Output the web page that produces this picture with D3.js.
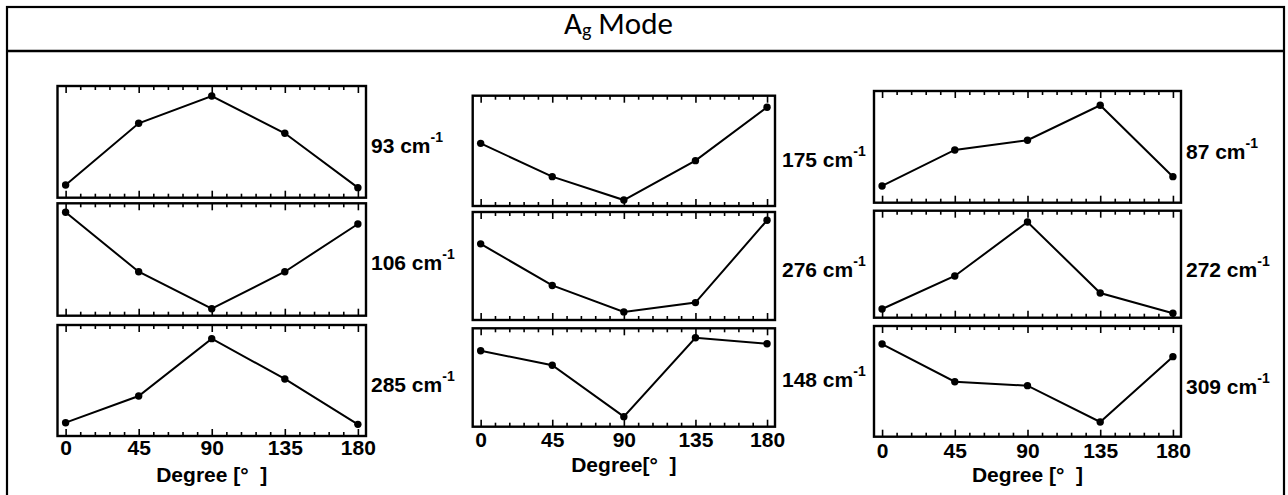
<!DOCTYPE html>
<html>
<head>
<meta charset="utf-8">
<script src="https://cdn.jsdelivr.net/npm/d3@7"></script>
<style>
  html, body { margin: 0; padding: 0; background: #fff; }
  svg { display: block; }
  .axis path.domain { display: none; }
  .axis line { stroke: #000; stroke-width: 1.6; }
  .axis text { font-family: "Liberation Sans", Arial, sans-serif; font-weight: bold; font-size: 21px; fill: #000; }
</style>
</head>
<body>
<svg id="chart" width="1288" height="495"></svg>
<script>
// Polarization angle (degrees) at which each spectrum was taken
const angles = [0, 45, 90, 135, 180];

// Normalised Raman intensity of each Ag mode versus angle
const i93  = [0.114, 0.666, 0.910, 0.577, 0.090];
const i106 = [0.920, 0.391, 0.062, 0.391, 0.816];
const i285 = [0.120, 0.360, 0.877, 0.514, 0.105];
const i175 = [0.568, 0.266, 0.054, 0.411, 0.895];
const i276 = [0.705, 0.320, 0.075, 0.161, 0.923];
const i148 = [0.772, 0.624, 0.102, 0.904, 0.843];
const i87  = [0.150, 0.472, 0.559, 0.872, 0.233];
const i272 = [0.081, 0.390, 0.894, 0.231, 0.041];
const i309 = [0.837, 0.497, 0.461, 0.133, 0.723];

// Mode wavenumbers (cm-1), column by column
const wavenumbers = [93, 106, 285, 175, 276, 148, 87, 272, 309];
const seriesList = [i93, i106, i285, i175, i276, i148, i87, i272, i309];

// Axis ticks
const majorTicks = [0, 45, 90, 135, 180];
const minorTicks = d3.range(0, 181, 9).filter(d => d % 45 !== 0);
const xLabels = ["Degree [°  ]", "Degree[°  ]", "Degree [°  ]"];

const svg = d3.select("#chart");

// Outer frame and title bar
svg.append("rect")
  .attr("x", 7).attr("y", 7).attr("width", 1277).attr("height", 520)
  .attr("fill", "none").attr("stroke", "#000").attr("stroke-width", 2.2);
svg.append("line")
  .attr("x1", 7).attr("x2", 1284).attr("y1", 51).attr("y2", 51)
  .attr("stroke", "#000").attr("stroke-width", 2.4);

const title = svg.append("text")
  .attr("x", 564).attr("y", 33.5)
  .attr("font-family", "Carlito, Lato, sans-serif")
  .attr("font-size", 31).attr("fill", "#000");
title.append("tspan").text("A");
title.append("tspan").attr("font-size", 20).attr("dy", 3.5).text("g");
title.append("tspan").attr("dy", -3.5).text(" Mode");

// Panel layout: frame extents per column and per row
const columns = [
  { x0: 57.5, x1: 366, rows: [[86, 197.7], [203.3, 315.7], [325, 436]],
    labelX: 371, labelDy: [11, 10.5, 11], pad: 4 },
  { x0: 472.7, x1: 775, rows: [[95.7, 206], [212, 320], [328.3, 426.7]],
    labelX: 782, labelDy: [16.4, 11.3, 9.8], pad: 5.5 },
  { x0: 874, x1: 1181, rows: [[91, 202.7], [210.7, 317.7], [326, 436.7]],
    labelX: 1186, labelDy: [12, 13, 12.6], pad: 6 }
];

columns.forEach((col, ci) => {
  const x = d3.scaleLinear().domain([-5, 185]).range([col.x0, col.x1]);

  col.rows.forEach((row, ri) => {
    const idx = ci * 3 + ri;
    const values = seriesList[idx];
    const [top, bottom] = row;
    const y = d3.scaleLinear().domain([0, 1]).range([bottom, top]);
    const g = svg.append("g");

    // inward ticks on the top edge
    g.append("g").attr("class", "axis").attr("transform", `translate(0,${top})`)
      .call(d3.axisTop(x).tickValues(minorTicks).tickSize(-4).tickSizeOuter(0).tickFormat(""));
    g.append("g").attr("class", "axis").attr("transform", `translate(0,${top})`)
      .call(d3.axisTop(x).tickValues(majorTicks).tickSize(-7).tickSizeOuter(0).tickFormat(""));

    // inward ticks on the bottom edge, labelled on the last row only
    g.append("g").attr("class", "axis").attr("transform", `translate(0,${bottom})`)
      .call(d3.axisBottom(x).tickValues(minorTicks).tickSize(-4).tickSizeOuter(0).tickFormat(""));
    const lastRow = ri === col.rows.length - 1;
    g.append("g").attr("class", "axis").attr("transform", `translate(0,${bottom})`)
      .call(d3.axisBottom(x).tickValues(majorTicks).tickSize(-7).tickSizeOuter(0)
        .tickPadding(col.pad).tickFormat(lastRow ? d3.format("d") : () => ""));

    // frame
    g.append("rect")
      .attr("x", col.x0).attr("y", top)
      .attr("width", col.x1 - col.x0).attr("height", bottom - top)
      .attr("fill", "none").attr("stroke", "#000").attr("stroke-width", 2.4);

    // intensity curve
    const pts = angles.map((a, k) => [a, values[k]]);
    g.append("path")
      .datum(pts)
      .attr("fill", "none").attr("stroke", "#000").attr("stroke-width", 2)
      .attr("d", d3.line().x(d => x(d[0])).y(d => y(d[1])));
    g.selectAll("circle").data(pts).join("circle")
      .attr("cx", d => x(d[0])).attr("cy", d => y(d[1])).attr("r", 3.7)
      .attr("fill", "#000");

    // mode label
    const lbl = g.append("text")
      .attr("x", col.labelX).attr("y", (top + bottom) / 2 + col.labelDy[ri])
      .attr("font-family", "Liberation Sans, Arial, sans-serif")
      .attr("font-weight", "bold").attr("font-size", 21).attr("fill", "#000");
    lbl.append("tspan").text(`${wavenumbers[idx]} cm`);
    lbl.append("tspan").attr("font-size", 14).attr("dy", -11).text("-1");

    if (lastRow) {
      svg.append("text")
        .attr("x", (col.x0 + col.x1) / 2).attr("y", bottom + 45.5)
        .attr("text-anchor", "middle")
        .style("white-space", "pre")
        .attr("font-family", "Liberation Sans, Arial, sans-serif")
        .attr("font-weight", "bold").attr("font-size", 21).attr("fill", "#000")
        .text(xLabels[ci]);
    }
  });
});
</script>
</body>
</html>
